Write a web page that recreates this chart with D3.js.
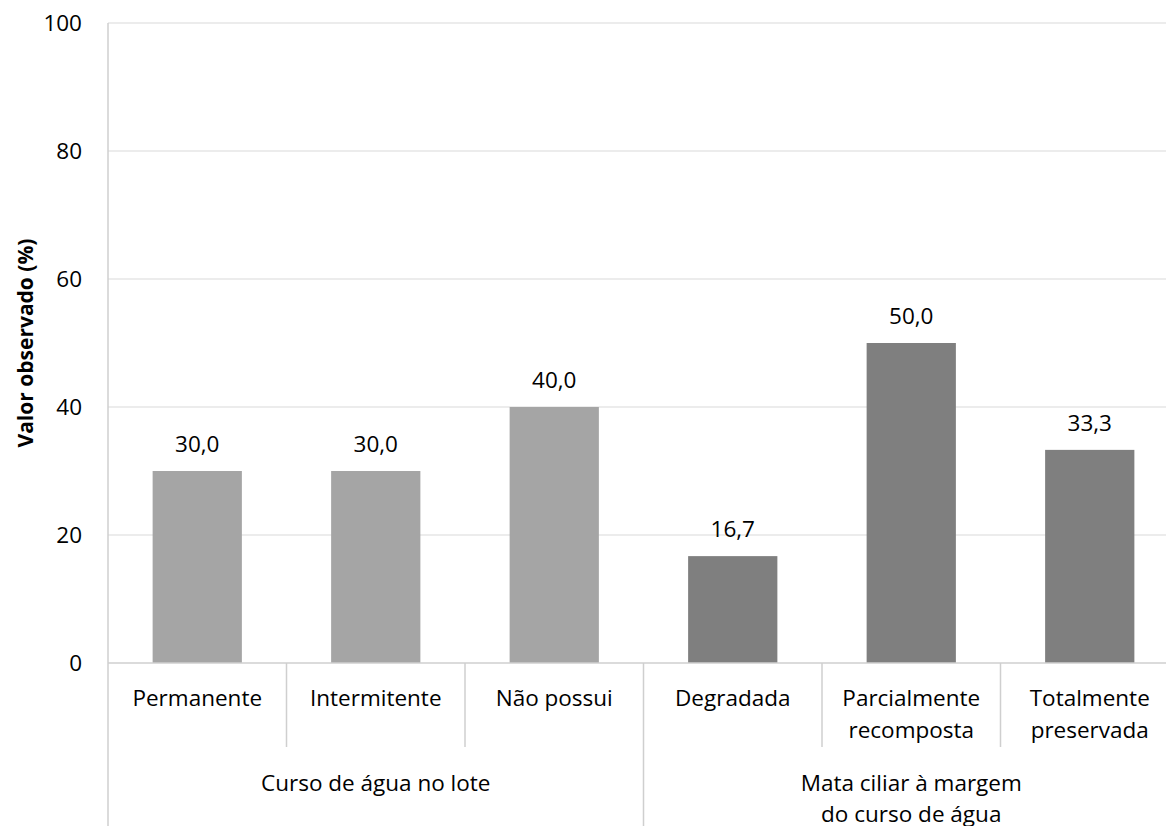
<!DOCTYPE html>
<html><head><meta charset="utf-8">
<script src="https://cdn.jsdelivr.net/npm/d3@7"></script>
<style>body{margin:0;background:#fff}svg{display:block}text{font-family:"Open Sans","Noto Sans",sans-serif}</style>
</head><body>
<script>
const categories = [["Permanente"],["Intermitente"],["Não possui"],["Degradada"],["Parcialmente","recomposta"],["Totalmente","preservada"]];
const values = [30.0, 30.0, 40.0, 16.7, 50.0, 33.3];
const groupOf = [0,0,0,1,1,1];
const groups = [["Curso de água no lote"],["Mata ciliar à margem","do curso de água"]];
const groupColors = ["#A5A5A5","#7F7F7F"];
const yTicks = [0,20,40,60,80,100];
const yTitle = "Valor observado (%)";

(function(){
const W=1166,H=826;
const svg=d3.select("body").append("svg").attr("width",W).attr("height",H);
const pL=108,pR=1179,pT=23,pB=663;
const FS=22.5;
const x=d3.scaleBand().domain(d3.range(categories.length)).range([pL,pR]).paddingInner(0.5).paddingOuter(0.25);
const y=d3.scaleLinear().domain([0,100]).range([pB,pT]);

svg.append("g").selectAll("line").data(yTicks.filter(d=>d>0)).join("line")
 .attr("x1",pL).attr("x2",pR).attr("y1",d=>y(d)).attr("y2",d=>y(d))
 .attr("stroke","#D9D9D9").attr("stroke-width",1.2);
svg.append("line").attr("x1",pL).attr("x2",pL).attr("y1",pT).attr("y2",H).attr("stroke","#CFCFCF").attr("stroke-width",1.5);
svg.append("g").selectAll("text").data(yTicks).join("text")
 .attr("x",82).attr("y",d=>y(d)).attr("dy","0.35em").attr("text-anchor","end")
 .attr("font-size",FS).attr("fill","#000").text(d=>d);
svg.append("g").selectAll("rect").data(values).join("rect")
 .attr("x",(d,i)=>x(i)).attr("width",x.bandwidth())
 .attr("y",d=>y(d)).attr("height",d=>y(0)-y(d))
 .attr("fill",(d,i)=>groupColors[groupOf[i]]);
svg.append("g").selectAll("text").data(values).join("text")
 .attr("x",(d,i)=>x(i)+x.bandwidth()/2).attr("y",d=>y(d)-19)
 .attr("text-anchor","middle").attr("font-size",FS).attr("fill","#000")
 .text(d=>d.toFixed(1).replace(".",","));
svg.append("line").attr("x1",pL).attr("x2",pR).attr("y1",pB).attr("y2",pB).attr("stroke","#CFCFCF").attr("stroke-width",1.5);
const catEdge=i=>pL+i*((pR-pL)/categories.length);
for(let i=1;i<categories.length;i++){
  const g = i===3;
  svg.append("line").attr("x1",catEdge(i)).attr("x2",catEdge(i)).attr("y1",pB).attr("y2",g?H:747)
   .attr("stroke","#CFCFCF").attr("stroke-width",1.5);
}
categories.forEach((lines,i)=>{
  const cx=(catEdge(i)+catEdge(i+1))/2;
  const t=svg.append("text").attr("x",cx).attr("y",706).attr("text-anchor","middle").attr("font-size",FS).attr("fill","#000");
  lines.forEach((l,k)=>t.append("tspan").attr("x",cx).attr("dy",k?32:0).text(l));
});
groups.forEach((lines,g)=>{
  const cx=(catEdge(g*3)+catEdge(g*3+3))/2;
  const t=svg.append("text").attr("x",cx).attr("y",791).attr("text-anchor","middle").attr("font-size",FS).attr("fill","#000");
  lines.forEach((l,k)=>t.append("tspan").attr("x",cx).attr("dy",k?31:0).text(l));
});
svg.append("text").attr("transform","translate(33,"+((pT+pB)/2)+") rotate(-90)").attr("text-anchor","middle")
 .attr("font-size",21).attr("font-weight","bold").attr("fill","#000").text(yTitle);
})();
</script>
</body></html>
